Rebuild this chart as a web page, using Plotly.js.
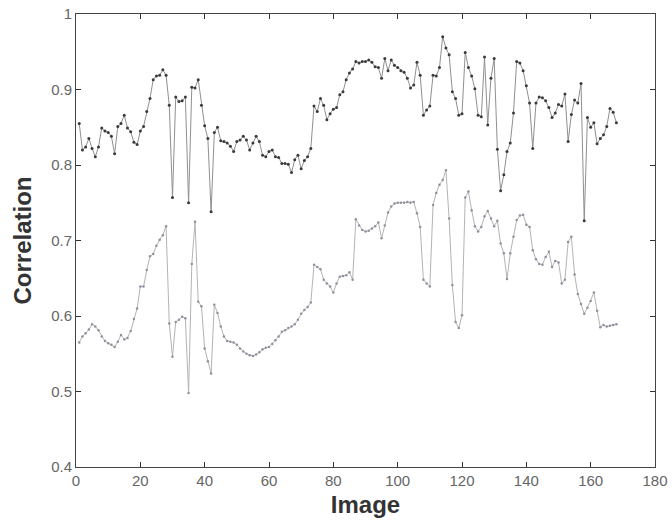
<!DOCTYPE html>
<html>
<head>
<meta charset="utf-8">
<script src="https://cdn.plot.ly/plotly-3.0.1.min.js"></script>
<style>html,body{margin:0;padding:0;background:#fff;}#chart{width:672px;height:529px;}</style>
</head>
<body>
<div id="chart"></div>
<script>
var upperSeries = [
0.855,0.820,0.824,0.835,0.822,0.811,0.824,0.849,0.845,0.843,
0.838,0.815,0.851,0.855,0.866,0.849,0.844,0.830,0.827,0.845,
0.851,0.871,0.888,0.913,0.918,0.919,0.926,0.919,0.879,0.757,
0.890,0.884,0.885,0.890,0.750,0.903,0.902,0.913,0.879,0.852,
0.835,0.738,0.843,0.850,0.832,0.831,0.829,0.825,0.818,0.831,
0.833,0.838,0.833,0.820,0.829,0.838,0.831,0.813,0.811,0.818,
0.820,0.811,0.810,0.802,0.802,0.801,0.790,0.807,0.813,0.795,
0.806,0.811,0.822,0.878,0.871,0.888,0.879,0.860,0.868,0.874,
0.876,0.893,0.897,0.913,0.922,0.927,0.937,0.935,0.937,0.937,
0.939,0.936,0.930,0.929,0.915,0.941,0.925,0.939,0.932,0.929,
0.925,0.923,0.915,0.902,0.906,0.936,0.919,0.866,0.873,0.878,
0.919,0.918,0.929,0.970,0.955,0.946,0.897,0.888,0.866,0.868,
0.949,0.929,0.918,0.901,0.866,0.864,0.943,0.853,0.915,0.941,
0.821,0.766,0.787,0.818,0.829,0.869,0.937,0.935,0.925,0.905,
0.882,0.822,0.882,0.890,0.889,0.885,0.876,0.863,0.869,0.880,
0.878,0.894,0.831,0.867,0.886,0.882,0.908,0.726,0.863,0.850,
0.856,0.828,0.835,0.840,0.851,0.875,0.870,0.856
];
var lowerSeries = [
0.565,0.573,0.577,0.582,0.589,0.586,0.581,0.573,0.567,0.564,
0.562,0.559,0.566,0.575,0.569,0.571,0.580,0.596,0.610,0.639,
0.639,0.661,0.679,0.682,0.693,0.701,0.707,0.719,0.590,0.546,
0.592,0.595,0.599,0.597,0.498,0.669,0.725,0.619,0.613,0.557,
0.540,0.524,0.615,0.604,0.586,0.573,0.567,0.566,0.565,0.562,
0.557,0.553,0.550,0.548,0.547,0.549,0.552,0.556,0.558,0.559,
0.563,0.568,0.573,0.579,0.581,0.584,0.586,0.589,0.595,0.603,
0.608,0.612,0.618,0.668,0.665,0.662,0.648,0.643,0.639,0.631,
0.643,0.652,0.653,0.654,0.658,0.648,0.728,0.720,0.714,0.712,
0.713,0.716,0.719,0.724,0.703,0.720,0.737,0.745,0.749,0.750,
0.750,0.750,0.751,0.750,0.751,0.736,0.718,0.648,0.643,0.639,
0.747,0.763,0.774,0.780,0.793,0.729,0.641,0.592,0.584,0.601,
0.757,0.765,0.740,0.719,0.712,0.718,0.732,0.739,0.729,0.719,
0.726,0.696,0.683,0.649,0.683,0.705,0.727,0.733,0.734,0.721,
0.718,0.687,0.675,0.669,0.668,0.678,0.685,0.665,0.673,0.671,
0.643,0.648,0.698,0.705,0.655,0.629,0.616,0.603,0.611,0.620,
0.631,0.607,0.585,0.588,0.586,0.587,0.588,0.589
];
var imageIndex = upperSeries.map(function(v, i){ return i + 1; });
var lowerIndex = lowerSeries.map(function(v, i){ return i + 1; });

var traces = [
  {
    x: imageIndex, y: upperSeries, type: 'scatter', mode: 'lines+markers',
    line: {color: '#909090', width: 1},
    marker: {color: '#3a3a3a', size: 3},
    hoverinfo: 'x+y', showlegend: false
  },
  {
    x: lowerIndex, y: lowerSeries, type: 'scatter', mode: 'lines+markers',
    line: {color: '#b4b4b4', width: 1},
    marker: {color: '#9090a0', size: 2.5},
    hoverinfo: 'x+y', showlegend: false
  }
];

var fam = 'Liberation Sans, Arial, sans-serif';
var axisFont = {family: fam, size: 15, color: '#666'};
var layout = {
  width: 672, height: 529,
  margin: {l: 76, r: 17, t: 14, b: 62},
  paper_bgcolor: '#fff', plot_bgcolor: '#fff',
  xaxis: {
    range: [0, 180], dtick: 20, tick0: 0,
    ticks: 'inside', ticklen: 5, tickcolor: '#333',
    showline: true, linecolor: '#444', linewidth: 1, mirror: 'ticks',
    showgrid: false, zeroline: false,
    tickfont: axisFont,
    title: {text: '<b>Image</b>', font: {family: fam, size: 24, color: '#333'}, standoff: 8}
  },
  yaxis: {
    range: [0.4, 1], dtick: 0.1, tick0: 0.4,
    ticks: 'inside', ticklen: 5, tickcolor: '#333',
    showline: true, linecolor: '#444', linewidth: 1, mirror: 'ticks',
    showgrid: false, zeroline: false,
    tickfont: axisFont,
    title: {text: '<b>Correlation</b>', font: {family: fam, size: 24, color: '#333'}, standoff: 12}
  }
};

Plotly.newPlot('chart', traces, layout, {staticPlot: true, displayModeBar: false});
</script>
</body>
</html>
